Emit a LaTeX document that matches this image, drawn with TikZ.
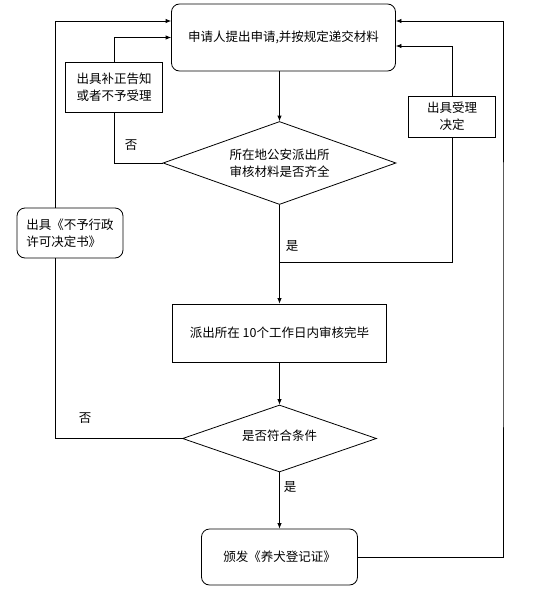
\documentclass[tikz,border=0pt]{standalone}
\usepackage{fontspec}
\newfontfamily\cjk{Noto Sans CJK SC}
\usetikzlibrary{shapes.geometric,arrows.meta}
\begin{document}
\begin{tikzpicture}[x=1pt,y=-1pt,line width=0.8pt,
    every node/.style={font=\cjk\fontsize{12.5}{17}\selectfont},
    arr/.style={-{Latex[length=5.5pt,width=4.5pt]}},
    boxnode/.style={draw,fill=white,inner sep=0pt,align=center},
    roundbox/.style={boxnode,rounded corners=8pt},
    decide/.style={draw,fill=white,diamond,inner sep=0pt,aspect=2.8,align=center}]
      \useasboundingbox (0,0) rectangle (543,589);
      \node[roundbox,minimum width=224pt,minimum height=67pt] (apply) at (283.5,37.5) {\raisebox{3pt}{申请人提出申请,并按规定递交材料}};
      \node[decide,minimum width=233pt,minimum height=83pt] (check) at (279.5,163) {所在地公安派出所\\审核材料是否齐全};
      \node[boxnode,minimum width=97pt,minimum height=50pt,align=left] (supp) at (114,87) {出具补正告知\\或者不予受理};
      \node[boxnode,minimum width=87pt,minimum height=41pt] (accept) at (452,116.5) {出具受理\\决定};
      \node[roundbox,minimum width=106pt,minimum height=50pt,align=left] (deny) at (70,233) {出具《不予行政\\许可决定书》};
      \node[boxnode,minimum width=214pt,minimum height=58pt] (review) at (279.5,333) {派出所在 10个工作日内审核完毕};
      \node[decide,minimum width=194pt,minimum height=67pt] (cond) at (279.5,438.5) {\raisebox{6pt}{是否符合条件}};
      \node[roundbox,minimum width=156pt,minimum height=56pt] (issue) at (279.5,557) {\raisebox{2pt}{颁发《养犬登记证》}};
      \coordinate (tl) at ([yshift=16.5pt]apply.west);
      \coordinate (tr) at ([yshift=16.5pt]apply.east);
      \coordinate (ir) at ([yshift=-8.5pt]apply.east);
      \coordinate (lx) at (55,300);
      \coordinate (rx) at (503,300);
      \coordinate (split) at (279.5,262);
      \draw[arr] (check.north |- apply.south) -- (check.north);
      \draw (check.west) -| (supp.south);
      \draw[arr] (supp.north) |- (apply.west);
      \draw (split) -| (accept.south);
      \draw[arr] (accept.north) |- (ir);
      \draw[arr] (check.south) -- (review.north);
      \draw[arr] (review.south) -- (cond.north);
      \draw (cond.west) -| (lx |- deny.south);
      \draw[arr] (lx |- deny.north) |- (tl);
      \draw[arr] (cond.south) -- (issue.north);
      \draw[arr] (issue.east) -| (rx) |- (tr);
      \node (no1) at (131,145) {否};
      \node (yes1) at (292,246) {是};
      \node (no2) at (85,418) {否};
      \node (yes2) at (290,487) {是};
    \end{tikzpicture}
\end{document}
